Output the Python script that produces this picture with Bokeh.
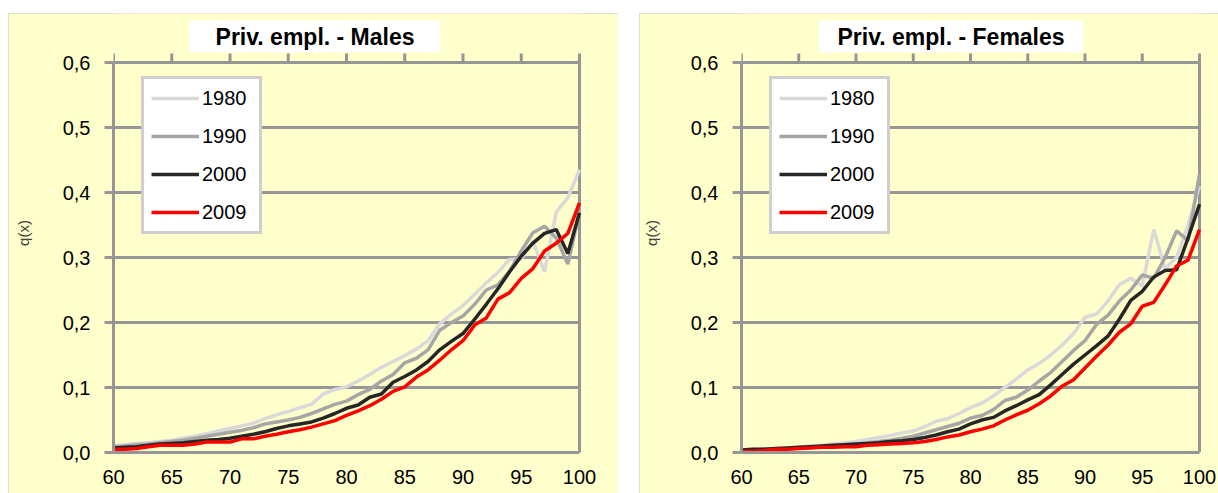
from bokeh.plotting import figure
from bokeh.models import (Legend, LegendItem, FixedTicker, CustomJSTickFormatter,
                          Range1d, Spacer)
from bokeh.core.properties import value
from bokeh.layouts import row, column
from bokeh.embed import file_html
from bokeh.resources import INLINE

# ---------------- data ----------------
ages = list(range(60, 101))
years = ["1980", "1990", "2000", "2009"]
colors = ["#D9D9D9", "#A6A6A6", "#262626", "#FF0000"]
x_ticks = [60, 65, 70, 75, 80, 85, 90, 95, 100]
y_ticks = [0.0, 0.1, 0.2, 0.3, 0.4, 0.5, 0.6]

male_1980 = [0.010, 0.012, 0.014, 0.015, 0.017, 0.019, 0.022, 0.025, 0.029, 0.033,
             0.037, 0.041, 0.045, 0.052, 0.058, 0.063, 0.069, 0.074, 0.090, 0.097,
             0.101, 0.110, 0.120, 0.131, 0.140, 0.149, 0.159, 0.172, 0.198, 0.213,
             0.226, 0.243, 0.261, 0.277, 0.297, 0.298, 0.325, 0.278, 0.370, 0.392,
             0.435]
male_1990 = [0.009, 0.010, 0.012, 0.013, 0.015, 0.017, 0.019, 0.022, 0.025, 0.028,
             0.031, 0.034, 0.038, 0.044, 0.047, 0.050, 0.054, 0.060, 0.067, 0.074,
             0.079, 0.089, 0.097, 0.110, 0.120, 0.138, 0.145, 0.158, 0.188, 0.200,
             0.210, 0.228, 0.250, 0.258, 0.279, 0.310, 0.338, 0.348, 0.330, 0.290,
             0.370]
male_2000 = [0.007, 0.008, 0.009, 0.011, 0.013, 0.014, 0.015, 0.017, 0.019, 0.020,
             0.022, 0.025, 0.028, 0.032, 0.037, 0.041, 0.044, 0.047, 0.053, 0.060,
             0.068, 0.073, 0.085, 0.090, 0.108, 0.117, 0.127, 0.140, 0.158, 0.171,
             0.183, 0.205, 0.228, 0.252, 0.278, 0.302, 0.322, 0.337, 0.343, 0.306,
             0.369]
male_2009 = [0.005, 0.005, 0.006, 0.009, 0.011, 0.011, 0.011, 0.013, 0.016, 0.016,
             0.016, 0.021, 0.021, 0.025, 0.028, 0.032, 0.035, 0.039, 0.044, 0.049,
             0.057, 0.064, 0.072, 0.082, 0.094, 0.101, 0.116, 0.127, 0.142, 0.158,
             0.172, 0.196, 0.207, 0.236, 0.246, 0.268, 0.283, 0.310, 0.322, 0.337,
             0.384]

female_1980 = [0.004, 0.005, 0.005, 0.006, 0.007, 0.008, 0.010, 0.011, 0.013, 0.015,
               0.017, 0.020, 0.023, 0.026, 0.030, 0.033, 0.040, 0.048, 0.052, 0.060,
               0.069, 0.076, 0.087, 0.100, 0.113, 0.127, 0.137, 0.150, 0.165, 0.183,
               0.208, 0.213, 0.233, 0.258, 0.268, 0.256, 0.343, 0.283, 0.300, 0.350,
               0.410]
female_1990 = [0.004, 0.004, 0.005, 0.005, 0.006, 0.007, 0.008, 0.009, 0.010, 0.012,
               0.013, 0.015, 0.017, 0.019, 0.022, 0.025, 0.030, 0.035, 0.040, 0.045,
               0.053, 0.057, 0.066, 0.080, 0.085, 0.096, 0.110, 0.123, 0.140, 0.157,
               0.172, 0.197, 0.211, 0.233, 0.250, 0.273, 0.268, 0.300, 0.341, 0.326,
               0.428]
female_2000 = [0.004, 0.005, 0.005, 0.006, 0.007, 0.008, 0.009, 0.010, 0.011, 0.012,
               0.013, 0.014, 0.015, 0.017, 0.018, 0.020, 0.023, 0.027, 0.032, 0.036,
               0.044, 0.050, 0.054, 0.064, 0.072, 0.081, 0.089, 0.104, 0.120, 0.136,
               0.150, 0.164, 0.179, 0.205, 0.234, 0.248, 0.270, 0.280, 0.281, 0.330,
               0.382]
female_2009 = [0.002, 0.002, 0.003, 0.005, 0.005, 0.006, 0.007, 0.008, 0.008, 0.009,
               0.009, 0.011, 0.012, 0.013, 0.014, 0.015, 0.017, 0.020, 0.024, 0.027,
               0.032, 0.036, 0.041, 0.050, 0.058, 0.065, 0.075, 0.087, 0.102, 0.112,
               0.130, 0.148, 0.165, 0.185, 0.198, 0.225, 0.231, 0.258, 0.287, 0.296,
               0.343]

BG = "#FFFFCC"
GRID = "#969696"
FONT = "Liberation Sans"

H = 480            # panel height
BOTTOM = 41        # space under the plot for x labels
PLOT_PX = 390      # pixels from y=0 to y=0.6
TICK_PX = 9
PAD_PX = 3         # room right of x=100 for the frame line


def make_chart(title, series, width, left, right, title_x, box_w):
    x0, x1 = x_ticks[0], x_ticks[-1]
    y0, y1 = y_ticks[0], y_ticks[-1]
    frame_w = width - left - right
    frame_h = H - BOTTOM
    x_end = x1 + (x1 - x0) * PAD_PX / (frame_w - PAD_PX)
    y_end = y1 * frame_h / PLOT_PX
    dy = y1 / PLOT_PX  # data per pixel

    p = figure(width=width, height=H, output_backend="svg", toolbar_location=None,
               x_range=Range1d(x0, x_end), y_range=Range1d(y0, y_end),
               min_border_left=left, min_border_right=right,
               min_border_top=0, min_border_bottom=BOTTOM,
               background_fill_color=BG, border_fill_color=BG,
               styles={"outline": "1px solid #D4D4D4", "outline-offset": "-1px"})
    p.outline_line_color = None
    p.title.visible = False

    p.xgrid.visible = False
    p.ygrid.ticker = FixedTicker(ticks=y_ticks)
    p.ygrid.grid_line_color = GRID
    p.ygrid.grid_line_width = 3
    p.ygrid.cross_bounds = (x0, x1)

    xa = p.xaxis[0]
    xa.ticker = FixedTicker(ticks=x_ticks)
    xa.bounds = (x0, x1)
    xa.axis_line_color = GRID
    xa.axis_line_width = 3
    xa.major_tick_out = 0
    xa.major_tick_in = 0
    xa.minor_tick_line_color = None
    xa.major_label_standoff = 17
    xa.major_label_text_font = FONT
    xa.major_label_text_font_size = "20px"
    xa.major_label_text_color = "black"

    ya = p.yaxis[0]
    ya.ticker = FixedTicker(ticks=y_ticks)
    ya.bounds = (y0, y1)
    ya.formatter = CustomJSTickFormatter(code="return tick.toFixed(1).replace('.', ',');")
    ya.axis_line_color = GRID
    ya.axis_line_width = 3
    ya.major_tick_out = TICK_PX
    ya.major_tick_in = 0
    ya.major_tick_line_color = GRID
    ya.major_tick_line_width = 3
    ya.minor_tick_line_color = None
    ya.major_label_standoff = 14
    ya.major_label_text_font = FONT
    ya.major_label_text_font_size = "20px"
    ya.major_label_text_color = "black"
    ya.axis_label = "q(x)"
    ya.axis_label_text_font = FONT
    ya.axis_label_text_font_size = "15px"
    ya.axis_label_text_font_style = "normal"
    ya.axis_label_standoff = 28

    # frame line on the right and tick marks on the top edge
    p.segment(x0=[x1], y0=[y0], x1=[x1], y1=[y1], line_color=GRID, line_width=3)
    p.segment(x0=x_ticks, y0=[y1] * len(x_ticks), x1=x_ticks,
              y1=[y1 + TICK_PX * dy] * len(x_ticks), line_color=GRID, line_width=3)

    items = []
    for yr, col, vals in zip(years, colors, series):
        r = p.line(ages, vals, line_color=col, line_width=3.5)
        items.append(LegendItem(label=yr, renderers=[r]))

    legend = Legend(items=items, location=(28, 218),
                    background_fill_color="white", background_fill_alpha=1.0,
                    border_line_color="#A0A0A0", border_line_width=3,
                    padding=7, spacing=14, margin=0,
                    glyph_width=48, glyph_height=24, label_height=24,
                    label_width=50, label_standoff=3,
                    label_text_font=FONT, label_text_font_size="20px",
                    label_text_color="black")
    p.add_layout(legend)

    # title box
    ty = y1 + 26 * dy
    p.rect(x=[title_x], y=[ty], width=[box_w], height=[32],
           width_units="screen", height_units="screen",
           fill_color="white", line_color=None)
    p.text(x=[title_x], y=[ty], text=[title], text_align="center",
           text_baseline="middle", text_font=value(FONT), text_font_size="23px",
           text_font_style="bold", text_color="black")
    return p


p1 = make_chart("Priv. empl. - Males",
                [male_1980, male_1990, male_2000, male_2009],
                610, 105, 36, 77.3, 251)
p2 = make_chart("Priv. empl. - Females",
                [female_1980, female_1990, female_2000, female_2009],
                579, 102, 16, 78.3, 264)

layout = column(Spacer(height=13, width=10),
                row(Spacer(width=8, height=10), p1, Spacer(width=21, height=10), p2,
                    spacing=0),
                spacing=0)

open("out.html", "w").write(file_html(layout, INLINE))
